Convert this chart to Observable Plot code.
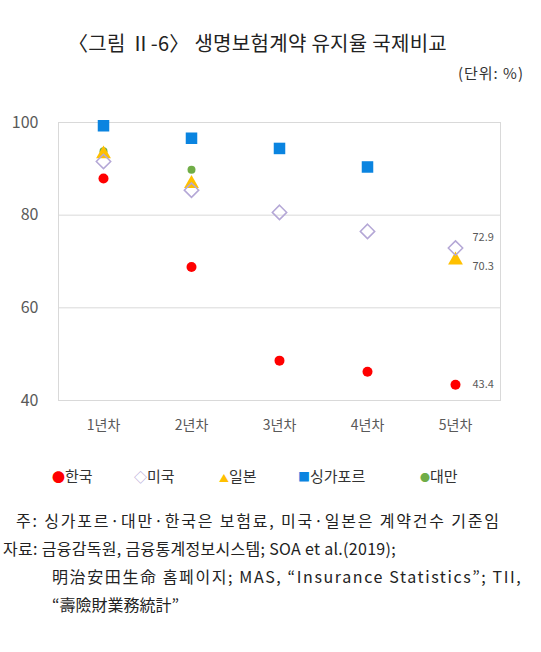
<!DOCTYPE html>
<html>
<head>
<meta charset="utf-8">
<script src="https://cdn.jsdelivr.net/npm/d3@7"></script>
<script src="https://cdn.jsdelivr.net/npm/@observablehq/plot@0.6"></script>
<style>
  body { margin: 0; background: #fff; font-family: "Noto Sans CJK KR", "Noto Sans", sans-serif; color: #222; }
  #wrap { position: relative; width: 541px; height: 652px; }
  .title { position: absolute; top: 28px; left: 0; width: 515px; text-align: center; font-size: 20px; letter-spacing: 0.3px; }
  .unit { position: absolute; top: 62px; right: 17px; font-size: 15px; color: #333; letter-spacing: 1px; }
  #chart { position: absolute; top: 100px; left: 0; }
  .legend { position: absolute; top: 465px; left: 0; width: 541px; font-size: 15px; color: #333; }
  .legend span.item { position: absolute; white-space: nowrap; }
  .note { position: absolute; font-size: 16px; color: #222; white-space: nowrap; }
</style>
</head>
<body>
<div id="wrap">
  <div class="title">〈그림 Ⅱ-6〉 생명보험계약 유지율 국제비교</div>
  <div class="unit">(단위: %)</div>
  <div id="chart"></div>
  <div class="legend" id="legend"></div>
  <div class="note" style="top:508px; left:16px; letter-spacing:1.8px;">주: 싱가포르·대만·한국은 보험료, 미국·일본은 계약건수 기준임</div>
  <div class="note" style="top:536px; left:3px; letter-spacing:0.3px;">자료: 금융감독원, 금융통계정보시스템; SOA et al.(2019);</div>
  <div class="note" style="top:564px; left:52px; letter-spacing:1.6px;">明治安田生命 홈페이지; MAS, “Insurance Statistics”; TII,</div>
  <div class="note" style="top:592px; left:52px;">“壽險財業務統計”</div>
</div>
<script>
// 연차
var years = ["1년차", "2년차", "3년차", "4년차", "5년차"]
var countries = ["한국", "미국", "일본", "싱가포르", "대만"]

// 유지율 (%)
var korea = [87.9, 68.8, 48.6, 46.2, 43.4]
var usa = [91.6, 85.4, 80.6, 76.5, 72.9]
var japan = [93.2, 86.8, null, null, 70.3]
var singapore = [99.3, 96.6, 94.4, 90.4, null]
var taiwan = [93.8, 89.8, null, null, null]

var colors = ["#ff0000", "#b4a7d6", "#ffc000", "#0a84e0", "#70ad47"]

var series = [korea, usa, japan, singapore, taiwan]
var data = []
series.forEach((vals, i) => {
  vals.forEach((v, j) => {
    if (v != null) data.push({country: countries[i], year: years[j], value: v})
  })
})
var last = data.filter(d => d.year == "5년차")

function label(country, dy) {
  return Plot.text(last.filter(d => d.country == country), {
    x: "year", y: "value",
    text: d => d.value.toFixed(1),
    dx: 17, dy: dy,
    textAnchor: "start",
    fontSize: 11,
    fill: "#595959"
  })
}

var chart = Plot.plot({
  width: 541,
  height: 340,
  marginTop: 22,
  marginBottom: 40,
  marginLeft: 58,
  marginRight: 41,
  style: {fontFamily: "'Noto Sans CJK KR', sans-serif", fontSize: "14px", color: "#595959"},
  x: {type: "point", domain: years, padding: 0.5, label: null},
  y: {domain: [40, 100], label: null},
  marks: [
    Plot.gridY([60, 80], {stroke: "#d9d9d9", strokeOpacity: 1}),
    Plot.frame({stroke: "#d9d9d9"}),
    Plot.axisX({tickSize: 0, tickPadding: 20, fontSize: 14}),
    Plot.axisY({ticks: [40, 60, 80, 100], tickSize: 0, tickPadding: 20, fontSize: 16}),
    Plot.dot(data.filter(d => d.country == "대만"), {x: "year", y: "value", symbol: "circle", fill: colors[4], r: 4}),
    Plot.dot(data.filter(d => d.country == "일본"), {x: "year", y: "value", symbol: "triangle", fill: colors[2], r: 5.5}),
    Plot.dot(data.filter(d => d.country == "미국"), {x: "year", y: "value", symbol: "diamond2", fill: "white", fillOpacity: 0, stroke: colors[1], strokeWidth: 1.5, r: 6.5}),
    Plot.dot(data.filter(d => d.country == "한국"), {x: "year", y: "value", symbol: "circle", fill: colors[0], r: 5}),
    Plot.dot(data.filter(d => d.country == "싱가포르"), {x: "year", y: "value", symbol: "square", fill: colors[3], r: 6.5}),
    label("미국", -11),
    label("일본", 6),
    label("한국", 0)
  ]
})
d3.select("#chart").append(() => chart)

// 범례
var legendX = [52, 134, 219, 298, 420]
var legendGlyph = ["●", "◇", "▲", "■", "●"]
var legendSize = [13, 13, 10, 12, 10]
countries.forEach((c, i) => {
  d3.select("#legend").append("span")
    .attr("class", "item")
    .style("left", legendX[i] + "px")
    .html(`<span style="color:${colors[i]};font-size:${legendSize[i]}px">${legendGlyph[i]}</span>${c}`)
})
</script>
</body>
</html>
